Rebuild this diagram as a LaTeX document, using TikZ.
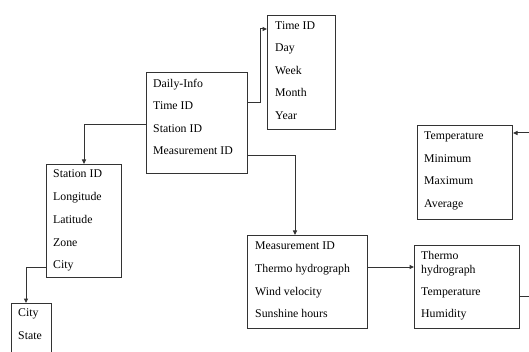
\documentclass[tikz,border=0pt]{standalone}
\usepackage{fontspec}
\setmainfont{Liberation Serif}
\usetikzlibrary{arrows.meta}
\tikzset{
  box/.style={draw=black!80, line width=1pt, inner sep=0pt, anchor=north west},
  txt/.style={anchor=base west, inner sep=0pt, font=\fontsize{11.8}{13.5}\selectfont},
  conn/.style={draw=black!80, line width=1pt},
  arr/.style={conn, -{Triangle[length=4.5pt,width=4pt]}}
}
\begin{document}
\begin{tikzpicture}[x=1pt,y=-1pt]
\useasboundingbox (0,0) rectangle (529,352);
% boxes
\node[box, minimum width=101pt, minimum height=101pt] (daily) at (146,72) {};
\node[box, minimum width=68pt, minimum height=114pt] (time) at (267,15) {};
\node[box, minimum width=95pt, minimum height=94pt] (temp) at (417,125) {};
\node[box, minimum width=75pt, minimum height=113pt] (station) at (46,164) {};
\node[box, minimum width=40pt, minimum height=60pt] (city) at (11,303) {};
\node[box, minimum width=120pt, minimum height=93pt] (meas) at (247,235) {};
\node[box, minimum width=105pt, minimum height=83pt] (thermo) at (414,245) {};
% texts
\node[txt] (d1) at (153,87.5) {Daily-Info};
\node[txt] (d2) at (153,110) {Time ID};
\node[txt] (d3) at (153,132.5) {Station ID};
\node[txt] (d4) at (153,155) {Measurement ID};
\node[txt] (t1) at (275,29.5) {Time ID};
\node[txt] (t2) at (275,52) {Day};
\node[txt] (t3) at (275,74.5) {Week};
\node[txt] (t4) at (275,97) {Month};
\node[txt] (t5) at (275,119.5) {Year};
\node[txt] (p1) at (424,140) {Temperature};
\node[txt] (p2) at (424,162.5) {Minimum};
\node[txt] (p3) at (424,185) {Maximum};
\node[txt] (p4) at (424,207.5) {Average};
\node[txt] (s1) at (53,178) {Station ID};
\node[txt] (s2) at (53,201) {Longitude};
\node[txt] (s3) at (53,224) {Latitude};
\node[txt] (s4) at (53,246.5) {Zone};
\node[txt] (s5) at (53,269) {City};
\node[txt] (c1) at (18,316.5) {City};
\node[txt] (c2) at (18,339) {State};
\node[txt] (m1) at (255,250) {Measurement ID};
\node[txt] (m2) at (255,272.5) {Thermo hydrograph};
\node[txt] (m3) at (255,295) {Wind velocity};
\node[txt] (m4) at (255,317.5) {Sunshine hours};
\node[txt] (h1) at (421,259.5) {Thermo};
\node[txt] (h2) at (421,273) {hydrograph};
\node[txt] (h3) at (421,295.5) {Temperature};
\node[txt] (h4) at (421,317.5) {Humidity};
% bend coordinates
\coordinate (b1) at (260,103);
\coordinate (b1t) at (260,29);
\coordinate (b2) at (84,125);
\coordinate (b3) at (295,156);
\coordinate (b4) at (26,267);
\coordinate (b5) at (380,267);
\coordinate (b6) at (529,296);
\coordinate (b7) at (529,133);
% connectors
\draw[arr] (daily.east |- b1) -- (b1) -- (b1t) -- (time.west |- b1t);
\draw[arr] (daily.west |- b2) -- (b2) -- (station.north -| b2);
\draw[arr] (daily.east |- b3) -- (b3) -- (meas.north -| b3);
\draw[arr] (station.west |- b4) -- (b4) -- (city.north -| b4);
\draw[arr] (meas.east |- b5) -- (thermo.west |- b5);
\draw[conn] (thermo.east |- b6) -- (b6);
\draw[arr] (b7) -- (temp.east |- b7);
\end{tikzpicture}
\end{document}
